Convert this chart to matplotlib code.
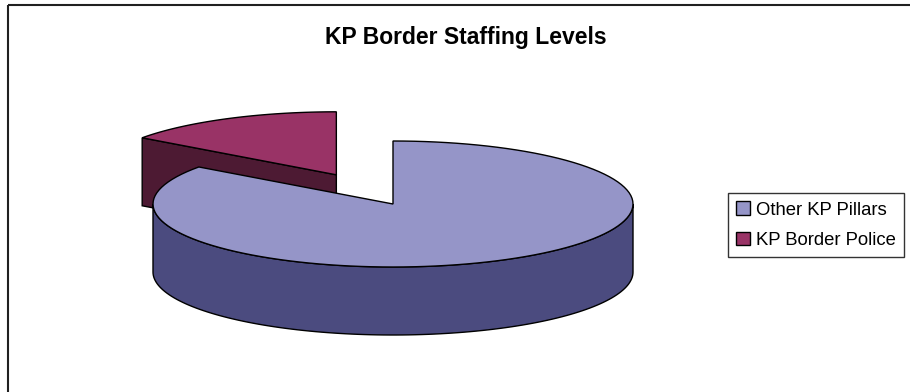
import numpy as np
import matplotlib.pyplot as plt
from matplotlib.patches import Polygon, Patch, Rectangle

# staffing share per group
labels = ['Other KP Pillars', 'KP Border Police']
values = [85, 15]
top_colors = ['#9595C8', '#993366']
side_colors = ['#4B4B7F', '#4D1A33']
explode = [0.0, 0.52]

# 3D pie geometry (pixels)
cx, cy = 393, 204
rx, ry = 240, 63
depth = 68


def pt(theta, ox=0.0, oy=0.0, dz=0.0):
    # theta in degrees, clockwise from 12 o'clock
    t = np.radians(theta)
    return ox + cx + rx * np.sin(t), oy + cy - ry * np.cos(t) + dz


def arc(t0, t1, ox=0.0, oy=0.0, dz=0.0, n=120):
    ts = np.linspace(t0, t1, n)
    xs, ys = pt(ts, ox, oy, dz)
    return np.column_stack([xs, ys])


fig = plt.figure(figsize=(9.1, 3.92), dpi=100)
ax = fig.add_axes([0, 0, 1, 1])
ax.set_xlim(0, 910)
ax.set_ylim(392, 0)
ax.axis('off')

# chart frame
ax.add_patch(Rectangle((8, 5), 920, 400, fill=False, edgecolor='#202020', lw=1.5))

total = sum(values)
starts = np.cumsum([0] + values[:-1]) / total * 360
spans = np.array(values) / total * 360

slices = []
for i in range(len(values)):
    t0, t1 = starts[i], starts[i] + spans[i]
    mid = np.radians((t0 + t1) / 2)
    ox = rx * explode[i] * np.sin(mid)
    oy = -ry * explode[i] * np.cos(mid)
    slices.append((t0, t1, ox, oy))

# exploded slices sit behind, so draw them first
order = sorted(range(len(values)), key=lambda i: -explode[i])
for i in order:
    t0, t1, ox, oy = slices[i]
    c = (cx + ox, cy + oy)
    # cut faces: outward normal is t0-90 for the start edge, t1+90 for the end edge
    for t, nrm in ((t0, t0 - 90), (t1, t1 + 90)):
        if np.cos(np.radians(nrm)) < -1e-6:
            p = pt(t, ox, oy)
            quad = [c, p, (p[0], p[1] + depth), (c[0], c[1] + depth)]
            ax.add_patch(Polygon(quad, closed=True, facecolor=side_colors[i],
                                 edgecolor='black', lw=1))
    # front curved wall (between 90 and 270 degrees)
    lo, hi = max(t0, 90), min(t1, 270)
    if hi > lo:
        top = arc(lo, hi, ox, oy)
        bot = arc(hi, lo, ox, oy, depth)
        ax.add_patch(Polygon(np.vstack([top, bot]), closed=True,
                             facecolor=side_colors[i], edgecolor='black', lw=1))
    # top surface
    top = arc(t0, t1, ox, oy)
    ax.add_patch(Polygon(np.vstack([[c], top]), closed=True,
                         facecolor=top_colors[i], edgecolor='black', lw=1))

ax.text(466, 37, 'KP Border Staffing Levels', ha='center', va='center',
        fontsize=16.5, fontweight='bold', family='Liberation Sans')

handles = [Patch(facecolor=top_colors[i], edgecolor='black', lw=1, label=labels[i])
           for i in range(len(values))]
leg = ax.legend(handles=handles, loc='upper left', bbox_to_anchor=(728, 193),
                bbox_transform=ax.transData, frameon=True, fancybox=False,
                prop={'family': 'Liberation Sans', 'size': 13.3},
                handlelength=0.76, handleheight=0.76, handletextpad=0.28,
                labelspacing=0.7, borderpad=0.45, borderaxespad=0)
leg.get_frame().set_edgecolor('black')
leg.get_frame().set_linewidth(1)

fig.savefig('out.png', dpi=100)
